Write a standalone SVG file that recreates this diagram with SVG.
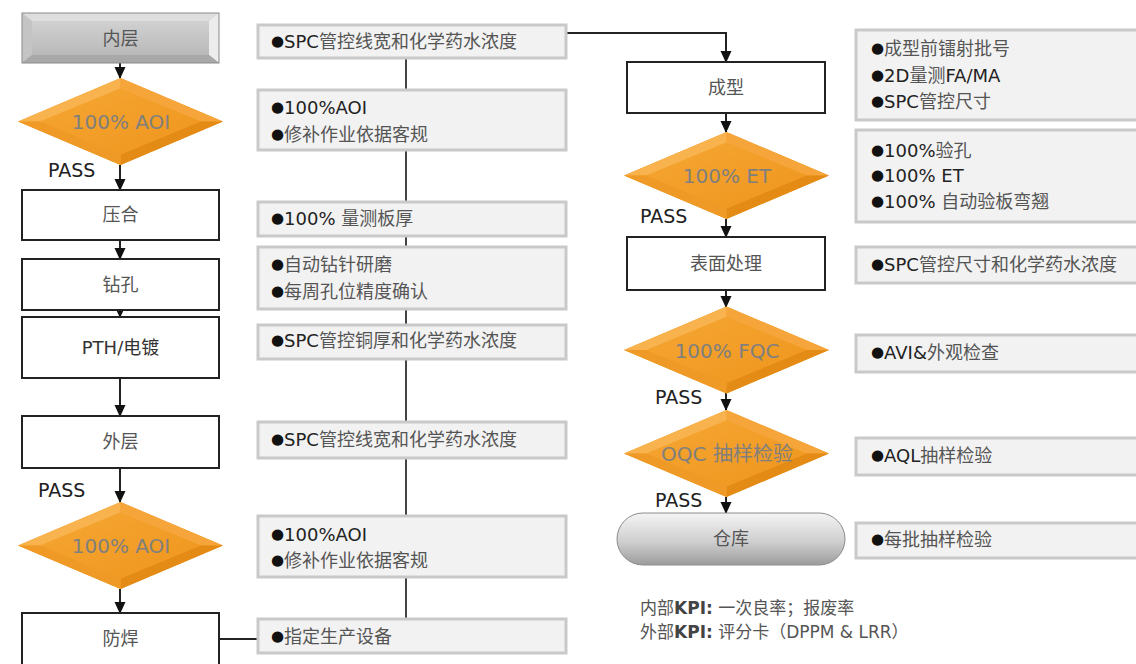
<svg xmlns="http://www.w3.org/2000/svg" xmlns:xlink="http://www.w3.org/1999/xlink" width="1136" height="664" viewBox="0 0 1136 664">
<style>
text{font-family:"DejaVu Sans","Noto Sans CJK SC",sans-serif}
.box{fill:#fff;stroke:#222;stroke-width:2}
.lbl{font-size:18px;fill:#555;text-anchor:middle}
.dlbl{font-size:20px;fill:#7f7f7f;text-anchor:middle}
.pass{font-size:19px;fill:#222}
.info{fill:#f2f2f2;stroke:#c9c9c9;stroke-width:3}
.it{font-size:18px;fill:#222}
.bu{font-size:15px;fill:#111;baseline-shift:2px}
.cj{fill:#555}
.ln{stroke:#222;stroke-width:2;fill:none}
.spine{stroke:#444;stroke-width:2;fill:none}
.kpi{font-size:17px;fill:#555}
.kpi .b{font-weight:bold;fill:#444}
</style>
<defs>
<marker id="ah" markerUnits="userSpaceOnUse" markerWidth="12" markerHeight="12" refX="11" refY="6" orient="auto">
<path d="M0,0.5 L12,6 L0,11.5 Z" fill="#111"/>
</marker>
<linearGradient id="gbox" x1="0" y1="0" x2="0" y2="1">
<stop offset="0" stop-color="#d6d6d6"/><stop offset="1" stop-color="#b4b4b4"/>
</linearGradient>
<linearGradient id="gpill" x1="0" y1="0" x2="0" y2="1">
<stop offset="0" stop-color="#f4f4f4"/><stop offset="0.55" stop-color="#cfcfcf"/><stop offset="1" stop-color="#9c9c9c"/>
</linearGradient>
<linearGradient id="gdia" x1="0" y1="0" x2="1" y2="1">
<stop offset="0" stop-color="#f6a734"/><stop offset="1" stop-color="#ee951d"/>
</linearGradient>
<g id="dia">
<polygon points="0,-43.5 102.5,0 0,43.5 -102.5,0" fill="url(#gdia)"/>
<polygon points="0,-43.5 -102.5,0 -80,0 0,-33" fill="#f8b24e"/>
<polygon points="0,-43.5 102.5,0 80,0 0,-33" fill="#f5a53a"/>
<polygon points="0,43.5 102.5,0 80,0 0,33" fill="#e48b16"/>
<polygon points="0,43.5 -102.5,0 -80,0 0,33" fill="#ef9a26"/>
<polygon points="0,-33 80,0 0,33 -80,0" fill="url(#gdia)"/>
</g>
</defs>

<g id="connectors">
<path class="spine" d="M406,58 V619"/>
<path class="ln" d="M120,63 V78" marker-end="url(#ah)"/>
<path class="ln" d="M120,165 V190" marker-end="url(#ah)"/>
<path class="ln" d="M120,240 V259" marker-end="url(#ah)"/>
<path class="ln" d="M120,310 V317" marker-end="url(#ah)"/>
<path class="ln" d="M120,378 V416" marker-end="url(#ah)"/>
<path class="ln" d="M120,468 V502" marker-end="url(#ah)"/>
<path class="ln" d="M120,589 V613" marker-end="url(#ah)"/>
<path class="ln" d="M219,639 H258"/>
<path class="ln" d="M566,33 H726 V62" marker-end="url(#ah)"/>
<path class="ln" d="M726,113 V132" marker-end="url(#ah)"/>
<path class="ln" d="M726,219 V237" marker-end="url(#ah)"/>
<path class="ln" d="M726,290 V307" marker-end="url(#ah)"/>
<path class="ln" d="M726,393 V410" marker-end="url(#ah)"/>
<path class="ln" d="M726,497 V513" marker-end="url(#ah)"/>
</g>

<g id="n-neiceng">
<rect x="22" y="13" width="197" height="50" fill="url(#gbox)"/>
<polygon points="22,13 219,13 209,21 32,21" fill="#dedede"/>
<polygon points="22,13 32,21 32,55 22,63" fill="#c4c4c4"/>
<polygon points="219,13 209,21 209,55 219,63" fill="#ececec"/>
<polygon points="22,63 32,55 209,55 219,63" fill="#a8a8a8"/>
<rect x="22" y="13" width="197" height="50" fill="none" stroke="#8a8a8a" stroke-width="1"/>
<text class="lbl" x="120.5" y="45">内层</text>
</g>

<g id="n-aoi1">
<use xlink:href="#dia" x="120.5" y="121.5"/>
<text class="dlbl" x="121" y="129">100% AOI</text>
<text class="pass" x="48" y="177">PASS</text>
</g>

<g id="n-yahe"><rect class="box" x="22" y="190" width="197" height="50"/><text class="lbl" x="120.5" y="221">压合</text></g>
<g id="n-zuankong"><rect class="box" x="22" y="259" width="197" height="51"/><text class="lbl" x="120.5" y="291">钻孔</text></g>
<g id="n-pth"><rect class="box" x="22" y="317" width="197" height="61"/><text class="lbl" x="120.5" y="354" style="fill:#333">PTH/电镀</text></g>
<g id="n-waiceng"><rect class="box" x="22" y="416" width="197" height="52"/><text class="lbl" x="120.5" y="448">外层</text></g>

<g id="n-aoi2">
<text class="pass" x="38" y="497">PASS</text>
<use xlink:href="#dia" x="120.5" y="545.5"/>
<text class="dlbl" x="121" y="553">100% AOI</text>
</g>

<g id="n-fanghan"><rect class="box" x="22" y="613" width="197" height="60"/><text class="lbl" x="120.5" y="645">防焊</text></g>

<g id="i1"><rect class="info" x="258" y="25" width="308" height="33"/><text class="it" x="271" y="48"><tspan class="bu">●</tspan>SPC<tspan class="cj">管控线宽和化学药水浓度</tspan></text></g>
<g id="i2"><rect class="info" x="258" y="90" width="308" height="60"/><text class="it" x="271" y="114"><tspan class="bu">●</tspan>100%AOI</text><text class="it" x="271" y="141"><tspan class="bu">●</tspan><tspan class="cj">修补作业依据客规</tspan></text></g>
<g id="i3"><rect class="info" x="258" y="202" width="308" height="34"/><text class="it" x="271" y="225"><tspan class="bu">●</tspan>100% <tspan class="cj">量测板厚</tspan></text></g>
<g id="i4"><rect class="info" x="258" y="247" width="308" height="62"/><text class="it" x="271" y="271"><tspan class="bu">●</tspan><tspan class="cj">自动钻针研磨</tspan></text><text class="it" x="271" y="298"><tspan class="bu">●</tspan><tspan class="cj">每周孔位精度确认</tspan></text></g>
<g id="i5"><rect class="info" x="258" y="325" width="308" height="34"/><text class="it" x="271" y="347"><tspan class="bu">●</tspan>SPC<tspan class="cj">管控铜厚和化学药水浓度</tspan></text></g>
<g id="i6"><rect class="info" x="258" y="422" width="308" height="36"/><text class="it" x="271" y="446"><tspan class="bu">●</tspan>SPC<tspan class="cj">管控线宽和化学药水浓度</tspan></text></g>
<g id="i7"><rect class="info" x="258" y="516" width="308" height="61"/><text class="it" x="271" y="541"><tspan class="bu">●</tspan>100%AOI</text><text class="it" x="271" y="567"><tspan class="bu">●</tspan><tspan class="cj">修补作业依据客规</tspan></text></g>
<g id="i8"><rect class="info" x="258" y="619" width="308" height="34"/><text class="it" x="271" y="643"><tspan class="bu">●</tspan><tspan class="cj">指定生产设备</tspan></text></g>

<g id="n-chengxing"><rect class="box" x="627" y="62" width="198" height="51"/><text class="lbl" x="726" y="94">成型</text></g>
<g id="n-et">
<use xlink:href="#dia" x="726.5" y="175.5"/>
<text class="dlbl" x="727" y="183">100% ET</text>
<text class="pass" x="640" y="223">PASS</text>
</g>
<g id="n-biaomian"><rect class="box" x="627" y="237" width="198" height="53"/><text class="lbl" x="726" y="270">表面处理</text></g>
<g id="n-fqc">
<use xlink:href="#dia" x="726.5" y="350"/>
<text class="dlbl" x="727" y="358">100% FQC</text>
<text class="pass" x="655" y="404">PASS</text>
</g>
<g id="n-oqc">
<use xlink:href="#dia" x="726.5" y="453.5"/>
<text class="dlbl" x="727" y="461">OQC 抽样检验</text>
<text class="pass" x="655" y="507">PASS</text>
</g>
<g id="n-cangku">
<rect x="617" y="513" width="228" height="52" rx="26" ry="26" fill="url(#gpill)" stroke="#8c8c8c" stroke-width="1"/>
<text class="lbl" x="731" y="545">仓库</text>
</g>

<g id="r1"><rect class="info" x="856" y="30" width="290" height="90"/><text class="it" x="871" y="55"><tspan class="bu">●</tspan><tspan class="cj">成型前镭射批号</tspan></text><text class="it" x="871" y="82"><tspan class="bu">●</tspan>2D<tspan class="cj">量测</tspan>FA/MA</text><text class="it" x="871" y="108"><tspan class="bu">●</tspan>SPC<tspan class="cj">管控尺寸</tspan></text></g>
<g id="r2"><rect class="info" x="856" y="130" width="290" height="92"/><text class="it" x="871" y="157"><tspan class="bu">●</tspan>100%<tspan class="cj">验孔</tspan></text><text class="it" x="871" y="182"><tspan class="bu">●</tspan>100% ET</text><text class="it" x="871" y="208"><tspan class="bu">●</tspan>100% <tspan class="cj">自动验板弯翘</tspan></text></g>
<g id="r3"><rect class="info" x="856" y="247" width="290" height="36"/><text class="it" x="871" y="271"><tspan class="bu">●</tspan>SPC<tspan class="cj">管控尺寸和化学药水浓度</tspan></text></g>
<g id="r4"><rect class="info" x="856" y="335" width="290" height="37"/><text class="it" x="871" y="359"><tspan class="bu">●</tspan>AVI&amp;<tspan class="cj">外观检查</tspan></text></g>
<g id="r5"><rect class="info" x="856" y="438" width="290" height="37"/><text class="it" x="871" y="462"><tspan class="bu">●</tspan>AQL<tspan class="cj">抽样检验</tspan></text></g>
<g id="r6"><rect class="info" x="856" y="523" width="290" height="35"/><text class="it" x="871" y="546"><tspan class="bu">●</tspan><tspan class="cj">每批抽样检验</tspan></text></g>

<g id="kpi">
<text class="kpi" x="640" y="614">内部<tspan class="b">KPI:</tspan> 一次良率；报废率</text>
<text class="kpi" x="640" y="638">外部<tspan class="b">KPI:</tspan> 评分卡（DPPM &amp; LRR）</text>
</g>
</svg>
